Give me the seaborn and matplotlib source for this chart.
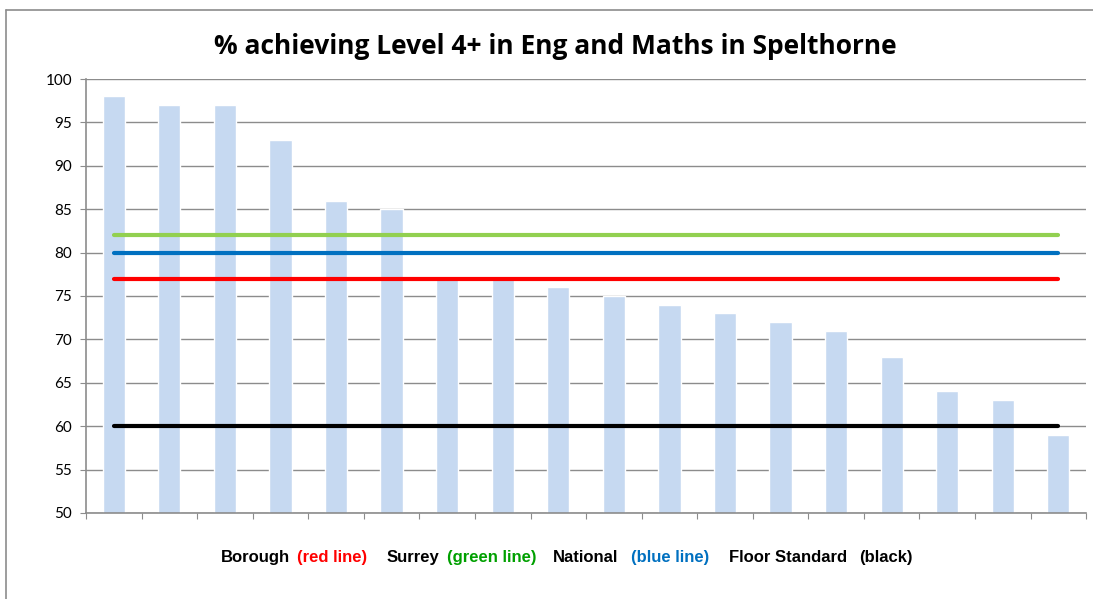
import matplotlib
matplotlib.use("Agg")
import matplotlib.pyplot as plt
import seaborn as sns
import pandas as pd
from matplotlib.lines import Line2D

# school results, sorted high to low
schools = [f"S{i}" for i in range(1, 19)]
pct = [98, 97, 97, 93, 86, 85, 77, 77, 76, 75, 74, 73, 72, 71, 68, 64, 63, 59]

# reference lines
borough = 77
surrey = 82
national = 80
floor_std = 60

df = pd.DataFrame({"school": schools, "pct": pct})

sns.set_style("white")
plt.rcParams['font.family'] = ['Lato', 'DejaVu Sans']
plt.rcParams['text.color'] = 'black'
plt.rcParams['ytick.labelcolor'] = 'black'

fig = plt.figure(figsize=(10.93, 5.99), dpi=100)
ax = fig.add_axes([0.0787, 0.1436, 0.915, 0.7245])

sns.barplot(data=df, x="school", y="pct", color="#C6D9F1", width=0.4,
            saturation=1, ax=ax, zorder=2)

n = len(pct)
ax.hlines(surrey, 0, n - 1, color="#92D050", lw=3, zorder=3, capstyle="round")
ax.hlines(national, 0, n - 1, color="#0070C0", lw=3, zorder=3, capstyle="round")
ax.hlines(borough, 0, n - 1, color="#FF0000", lw=3, zorder=3, capstyle="round")
ax.hlines(floor_std, 0, n - 1, color="black", lw=3, zorder=3, capstyle="round")

ax.set_ylim(50, 100)
ax.set_xlim(-0.5, n - 0.5)
ax.set_yticks(range(50, 101, 5))
ax.yaxis.grid(True, color="#8C8C8C", lw=1)
ax.set_axisbelow(True)
ax.set_xticks([i - 0.5 for i in range(n + 1)])
ax.set_xticklabels([])
ax.set_xlabel("")
ax.set_ylabel("")
ax.tick_params(axis="y", labelsize=11, length=4, color="#8C8C8C", left=True,
               pad=6, labelcolor="black")
ax.tick_params(axis="x", length=4, color="#8C8C8C", bottom=True)
for s in ["top", "right"]:
    ax.spines[s].set_visible(False)
for s in ["left", "bottom"]:
    ax.spines[s].set_color("#8C8C8C")
    ax.spines[s].set_linewidth(1.2)

fig.text(0.508, 0.923, "% achieving Level 4+ in Eng and Maths in Spelthorne",
         ha="center", va="center", fontsize=19, fontweight="bold",
         color="black", family=["Open Sans", "DejaVu Sans"])

# coloured legend text
pieces = [("Borough", "black", 221), ("(red line)", "#FF0000", 297),
          ("Surrey", "black", 387), ("(green line)", "#00A000", 447),
          ("National", "black", 553), ("(blue line)", "#0070C0", 631),
          ("Floor Standard", "black", 729), ("(black)", "black", 859)]
for txt, col, px in pieces:
    fig.text(px / 1093, 1 - 562 / 599, txt, color=col, fontsize=12,
             fontweight="bold", ha="left", va="baseline",
             family=["Liberation Sans", "DejaVu Sans"])

# chart border (top and left only visible)
fig.add_artist(Line2D([6 / 1093, 1], [1 - 10 / 599] * 2, transform=fig.transFigure,
                      color="#8C8C8C", lw=1.2))
fig.add_artist(Line2D([6 / 1093] * 2, [0, 1 - 10 / 599], transform=fig.transFigure,
                      color="#8C8C8C", lw=1.2))

fig.savefig("out.png", dpi=100)
